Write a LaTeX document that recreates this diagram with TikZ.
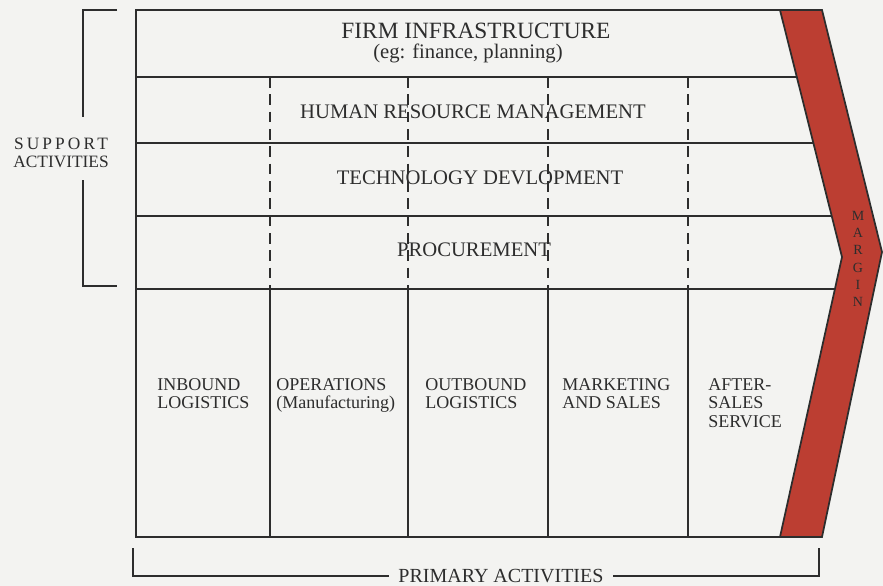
\documentclass[tikz,border=0pt]{standalone}
\usepackage{fontspec}
\setmainfont{Liberation Serif}
\usepackage{xcolor}
\definecolor{marginred}{RGB}{188,62,50}
\definecolor{inkgray}{RGB}{45,45,45}
\definecolor{paper}{RGB}{243,243,241}

\begin{document}
\begin{tikzpicture}[
        x=0.75pt, y=-0.75pt,
        every node/.style={font=\fontsize{15.5}{18}\selectfont, text=inkgray},
        frame/.style={line width=1.7pt, draw=inkgray},
        dashdiv/.style={line width=1.7pt, draw=inkgray, dash pattern=on 8pt off 5pt},
        brace/.style={line width=1.3pt, draw=inkgray},
        primlabel/.style={font=\fontsize{13.5}{14}\selectfont, align=left, anchor=north west, inner sep=0pt},
    ]
    \fill[paper] (0,0) rectangle (883,586);
    \useasboundingbox (0,0) rectangle (883,586);

    % Margin arrow
    \draw[line width=1.3pt, draw=inkgray, fill=marginred] (780,10) -- (822,10) -- (882,252) -- (822,537) -- (780,537) -- (842,257) -- cycle;
    \node[font=\fontsize{10.5}{13}\selectfont, align=center, inner sep=0pt] (margin) at (858,259) {M\\A\\R\\G\\I\\N};

    % Outer frame and support rows
    \draw[frame] (780,10) -- (136,10) -- (136,537) -- (780,537);
    \draw[frame] (136,77) -- (797,77);
    \draw[frame] (136,143) -- (813,143);
    \draw[frame] (136,216) -- (832,216);
    \draw[frame] (136,289) -- (835,289);

    % Column dividers
    \foreach \x in {270,408,548,688} {
        \draw[dashdiv] (\x,77) -- (\x,289);
        \draw[frame] (\x,289) -- (\x,537);
    }

    % Support activities
    \node[inner sep=0pt] (firm) at (476,31) {\fontsize{17.5}{20}\selectfont FIRM INFRASTRUCTURE};
    \node[inner sep=0pt, font=\fontsize{15.5}{18}\selectfont] (firmeg) at (468,53) {(eg: finance, planning)};
    \node (hrm) at (473,112) {HUMAN RESOURCE MANAGEMENT};
    \node (tech) at (480,178) {TECHNOLOGY DEVLOPMENT};
    \node (proc) at (474,250) {PROCUREMENT};

    % Primary activities
    \node[primlabel] (inbound) at (157,378) {INBOUND\\LOGISTICS};
    \node[primlabel] (ops) at (276,378) {OPERATIONS\\(Manufacturing)};
    \node[primlabel] (outbound) at (425,378) {OUTBOUND\\LOGISTICS};
    \node[primlabel] (mkt) at (562,378) {MARKETING\\AND SALES};
    \node[primlabel] (after) at (708,378) {AFTER-\\SALES\\SERVICE};

    % Brackets
    \node[font=\fontsize{13}{13}\selectfont, align=center] (supp) at (61,153) {\addfontfeature{LetterSpace=18}SUPPORT\\ACTIVITIES};
    \draw[brace] (117,10) -- (83,10) -- (83,117);
    \draw[brace] (83,180) -- (83,286) -- (117,286);
    \node[font=\fontsize{15}{18}\selectfont, inner xsep=7pt] (prim) at (501,576) {PRIMARY ACTIVITIES};
    \draw[brace] (133,548) -- (133,576) -- (prim.west);
    \draw[brace] (prim.east) -- (819,576) -- (819,548);
\end{tikzpicture}
\end{document}
